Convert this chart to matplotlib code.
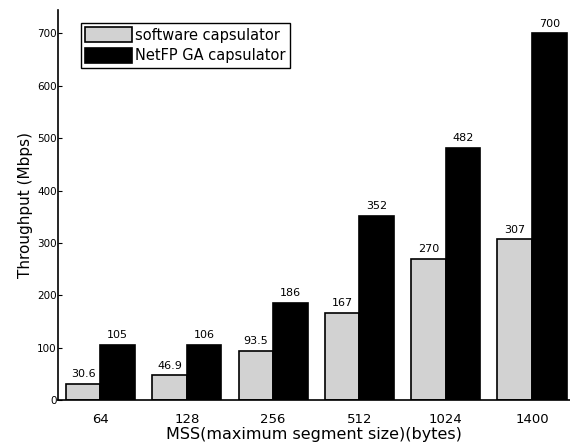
import numpy as np
import matplotlib
matplotlib.use('Agg')
import matplotlib.pyplot as plt

mss = ['64', '128', '256', '512', '1024', '1400']
software = [30.6, 46.9, 93.5, 167, 270, 307]
netfpga = [105, 106, 186, 352, 482, 700]
sw_labels = ['30.6', '46.9', '93.5', '167', '270', '307']
hw_labels = ['105', '106', '186', '352', '482', '700']

plt.rcParams['font.family'] = ['DejaVu Sans']

fig = plt.figure(figsize=(5.7, 4.47), dpi=100)
ax = fig.add_axes([0.102, 0.105, 0.898, 0.873])

x = np.arange(len(mss))
w = 0.4
ax.bar(x - w / 2, software, w, color='#d2d2d2', edgecolor='black', linewidth=1.2,
       label='software capsulator')
ax.bar(x + w / 2, netfpga, w, color='black', edgecolor='black', linewidth=1.2,
       label='NetFP GA capsulator')

for i in range(len(mss)):
    ax.text(x[i] - w / 2, software[i] + 9, sw_labels[i], ha='center', va='bottom', fontsize=8)
    ax.text(x[i] + w / 2, netfpga[i] + 9, hw_labels[i], ha='center', va='bottom', fontsize=8)

ax.set_xlim(-0.49, 5.44)
ax.set_ylim(0, 745)
ax.set_yticks(range(0, 701, 100))
ax.set_xticks(x)
ax.set_xticklabels(mss, fontsize=9.5)
ax.tick_params(axis='y', direction='in', length=3, labelsize=7.5, pad=1)
ax.tick_params(axis='x', length=0, pad=9)
ax.spines['top'].set_visible(False)
ax.spines['right'].set_visible(False)
ax.spines['left'].set_linewidth(1.2)
ax.spines['bottom'].set_linewidth(1.2)

ax.set_xlabel('MSS(maximum segment size)(bytes)', fontsize=11.5, labelpad=1)
ax.set_ylabel('Throughput (Mbps)', fontsize=11, labelpad=3)

leg = ax.legend(loc='upper left', bbox_to_anchor=(0.03, 0.985), fontsize=10.5,
                fancybox=False, edgecolor='black', framealpha=1,
                handlelength=3.2, handleheight=1.2, handletextpad=0.2, borderpad=0.3,
                labelspacing=0.35)
leg.get_frame().set_linewidth(1.0)

fig.savefig('out.png', dpi=100)
